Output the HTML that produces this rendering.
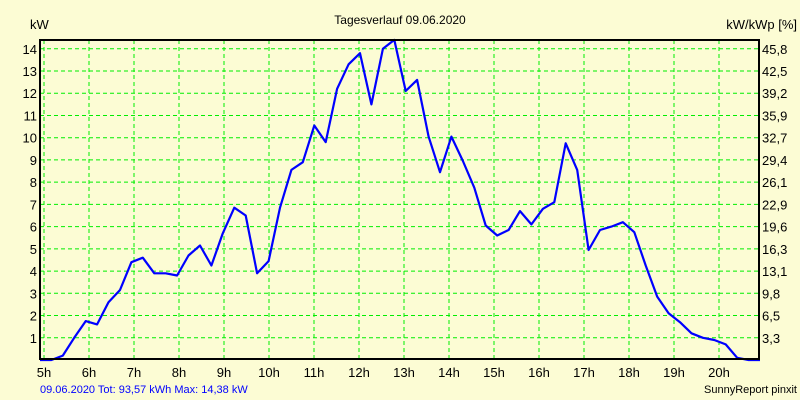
<!DOCTYPE html>
<html><head><meta charset="utf-8"><style>
body{margin:0;background:#fcfcd4;}
svg{display:block;font-family:"Liberation Sans",sans-serif;font-size:13px;}
</style></head><body>
<svg width="800" height="400" xmlns="http://www.w3.org/2000/svg">
<rect width="800" height="400" fill="#fcfcd4"/>
<text x="400" y="24" text-anchor="middle" font-size="12">Tagesverlauf 09.06.2020</text>
<text x="30" y="29" font-size="13">kW</text>
<text x="797" y="29" text-anchor="end" font-size="13">kW/kWp [%]</text>
<g id="grid"></g>
<g id="ticks"></g>
<polyline id="line" fill="none" stroke="#0000ff" stroke-width="2.2" stroke-linejoin="round"/>
<rect x="40" y="40" width="719" height="319" fill="none" stroke="#000" stroke-width="2"/>
<text x="40" y="393" fill="#0000ff" font-size="11">09.06.2020 Tot: 93,57 kWh Max: 14,38 kW</text>
<text x="797" y="393" text-anchor="end" font-size="11">SunnyReport pinxit</text>
</svg>
<script>
const hourLabels=["5h","6h","7h","8h","9h","10h","11h","12h","13h","14h","15h","16h","17h","18h","19h","20h"];
const yLabels=[1,2,3,4,5,6,7,8,9,10,11,12,13,14];
const y2Labels=["3,3","6,5","9,8","13,1","16,3","19,6","22,9","26,1","29,4","32,7","35,9","39,2","42,5","45,8"];
const values=[0,0,0.2,1.0,1.75,1.6,2.6,3.15,4.4,4.6,3.9,3.9,3.8,4.7,5.15,4.25,5.7,6.85,6.5,3.9,4.45,6.85,8.55,8.9,10.55,9.8,12.2,13.3,13.8,11.5,14.0,14.4,12.1,12.6,10.05,8.45,10.05,8.95,7.75,6.05,5.6,5.85,6.7,6.1,6.8,7.1,9.75,8.55,4.95,5.85,6.0,6.2,5.75,4.25,2.85,2.1,1.7,1.2,1.0,0.9,0.7,0.1,0,0];
const startHour=4.91, stepHour=0.254;
const X=h=>44+(h-5)*45;
const Y=v=>360-v*22.23;
const NS="http://www.w3.org/2000/svg";
const grid=document.getElementById('grid'), ticks=document.getElementById('ticks');
function mk(tag,attrs,parent){const e=document.createElementNS(NS,tag);for(const k in attrs)e.setAttribute(k,attrs[k]);parent.appendChild(e);return e;}
hourLabels.forEach((l,i)=>{
  const x=X(5+i);
  const g=mk('line',{x1:x,x2:x,y1:40,y2:359,stroke:'#00ee00','stroke-dasharray':'4,3','stroke-width':1},grid);
  
  
  const t=mk('text',{x:x,y:377,'text-anchor':'middle'},ticks);
  
  
  t.textContent=l;
});
yLabels.forEach((v,i)=>{
  const y=Y(v);
  const g=mk('line',{x1:40,x2:759,y1:y,y2:y,stroke:'#00ee00','stroke-dasharray':'4,3','stroke-width':1},grid);
  
  
  const t=mk('text',{x:37,y:y+5,'text-anchor':'end'},ticks);
  
  
  t.textContent=v;
  const t2=mk('text',{x:762,y:y+5},ticks);
  
  
  t2.textContent=y2Labels[i];
});
document.getElementById('line').setAttribute('points',values.map((v,i)=>X(startHour+i*stepHour).toFixed(1)+','+Y(v).toFixed(1)).join(' '));
</script>
</body></html>
